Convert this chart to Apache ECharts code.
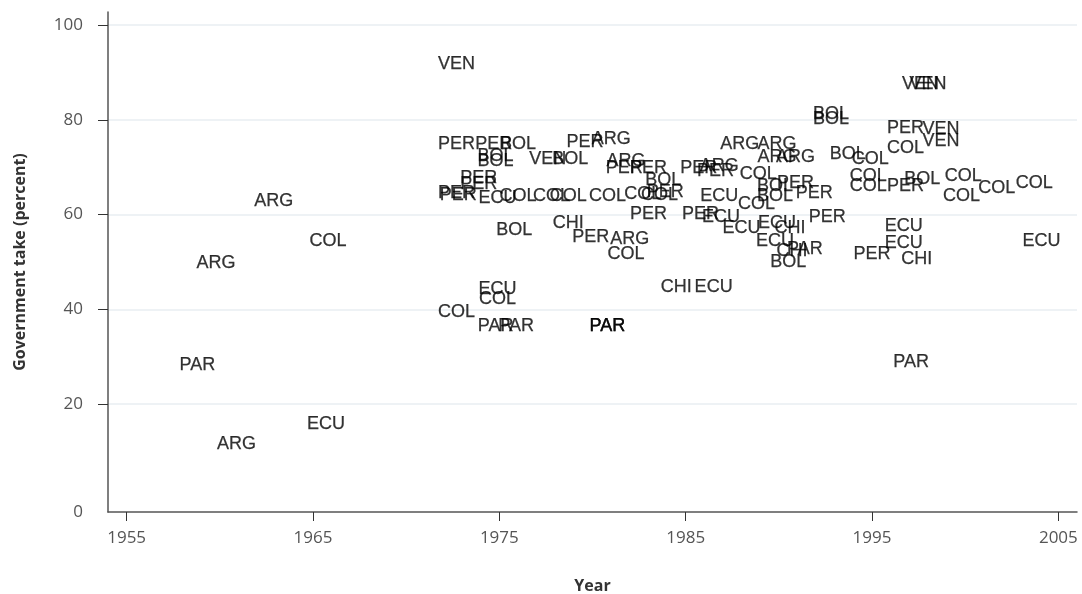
<!DOCTYPE html>
<html><head><meta charset="utf-8">
<script src="https://cdn.jsdelivr.net/npm/echarts@6/dist/echarts.min.js"></script>
<style>html,body{margin:0;padding:0;background:#fff}#c{width:1082px;height:594px}</style>
</head><body><div id="c"></div>
<script>
// Country code for each observation
const codes = [
 'VEN','ARG','COL','ARG','PAR','ECU','ARG',
 'PER','PER','BOL','PER','ARG','BOL','BOL','VEN','BOL','ARG','PER','PER','BOL',
 'PER','PER','PER','PER','ECU','COL','COL','COL','COL','COL','COL','PER',
 'PER','PER','ECU','BOL','CHI','PER','ARG','COL','CHI','ECU','ECU','COL','COL',
 'PAR','PAR','PAR','PAR',
 'BOL','BOL','ARG','ARG','ARG','ARG','BOL','COL','PER','ARG','PER','COL',
 'BOL','PER','BOL','PER','ECU','COL','ECU','ECU','CHI','PER','ECU','CHI','PAR','BOL','PER',
 'VEN','VEN','PER','VEN','VEN','COL','COL','BOL','COL','COL','PER','COL','COL','COL',
 'ECU','ECU','ECU','CHI','PAR'
];
// Year of each observation
const years = [
 1972.7,1962.9,1965.8,1959.8,1958.8,1965.7,1960.9,
 1972.7,1974.7,1976.0,1979.6,1981.0,1974.8,1974.8,1977.6,1978.8,1981.8,1981.7,1983.0,1983.8,
 1973.9,1973.9,1972.7,1972.8,1974.9,1976.0,1977.8,1978.7,1980.8,1982.7,1983.6,1983.9,
 1983.0,1985.8,1986.9,1975.8,1978.7,1979.9,1982.0,1981.8,1984.5,1986.5,1974.9,1974.9,1972.7,
 1974.8,1975.9,1980.8,1980.8,
 1992.8,1992.8,1987.9,1989.9,1989.9,1990.9,1993.7,1994.9,1985.7,1986.8,1986.6,1988.9,
 1989.8,1990.9,1989.8,1991.9,1986.8,1988.8,1988.0,1989.9,1990.6,1992.6,1989.8,1990.7,1991.4,1990.5,1995.0,
 1997.6,1998.0,1996.8,1998.7,1998.7,1996.8,1994.8,1997.7,1999.9,1994.8,1996.8,1999.8,2001.7,2003.7,
 1996.7,1996.7,2004.1,1997.4,1997.1
];
// Government take (percent)
const takes = [
 91.8,62.9,54.5,49.7,28.2,15.8,11.6,
 74.9,74.9,74.9,75.4,76.0,72.4,71.4,71.8,71.8,71.4,69.9,69.9,67.2,
 67.8,66.5,64.6,64.2,63.6,64.0,64.0,64.0,64.0,64.4,64.2,64.8,
 60.2,60.2,59.4,56.8,58.3,55.2,54.9,51.6,44.8,44.8,44.4,42.1,39.4,
 36.4,36.4,36.4,36.4,
 81.3,80.2,74.9,74.9,72.2,72.2,72.8,71.8,69.9,70.3,69.1,68.6,
 66.1,66.7,64.0,64.6,64.0,62.3,57.1,58.3,57.1,59.4,54.5,52.4,52.8,49.9,51.6,
 87.6,87.6,78.3,78.1,75.6,74.1,68.2,67.6,68.2,66.1,66.1,64.0,65.5,66.7,
 57.5,53.9,54.5,50.7,28.8
];
const xTicks = [1955,1965,1975,1985,1995,2005];
const yTicks = [20,40,60,80,100];
const yTickLabels = ['0','20','40','60','80','100'];

const X_MIN = 1954, X_MAX = 2006, Y_MIN = -2.74, Y_MAX = 102.74;

const points = codes.map((c,i)=>({name:c, value:[years[i], takes[i]]}));
const axisFont = {fontFamily:'Open Sans', fontSize:17, color:'#555'};
const nameFont = {fontFamily:'Open Sans', fontWeight:'bold', fontSize:16, color:'#333'};

const chart = echarts.init(document.getElementById('c'), null, {renderer:'canvas'});
chart.setOption({
  animation:false,
  grid:{left:108, right:5, top:12, bottom:82, containLabel:false, outerBoundsMode:'none'},
  xAxis:{
    type:'value', min:X_MIN, max:X_MAX,
    name:'Year', nameLocation:'middle', nameGap:66, nameTextStyle:nameFont,
    axisLine:{show:true, onZero:false, lineStyle:{color:'#555', width:1.5}},
    axisTick:{show:true, length:9, customValues:xTicks, lineStyle:{color:'#333', width:1}},
    axisLabel:Object.assign({margin:18, customValues:xTicks, formatter:v=>String(v)}, axisFont),
    splitLine:{show:false}
  },
  yAxis:{
    type:'value', min:Y_MIN, max:Y_MAX,
    name:'Government take (percent)', nameLocation:'middle', nameGap:80, nameRotate:90,
    nameTextStyle:nameFont,
    axisLine:{show:true, onZero:false, lineStyle:{color:'#555', width:1.5}},
    axisTick:{show:true, length:10, customValues:yTicks, lineStyle:{color:'#333', width:1}},
    axisLabel:Object.assign({margin:25, customValues:[Y_MIN].concat(yTicks),
      formatter:v=> v < 0 ? yTickLabels[0] : yTickLabels[yTicks.indexOf(v)+1]}, axisFont),
    splitLine:{show:true, lineStyle:{color:'#e8eef2', width:1.5}}
  },
  series:[{
    type:'scatter', data:points, symbolSize:0.1, silent:true,
    itemStyle:{color:'rgba(0,0,0,0)'},
    label:{show:true, position:'inside', formatter:p=>p.name,
      fontFamily:'Liberation Sans', fontSize:18, color:'#000',
      textBorderColor:'#000', textBorderWidth:0.25}
  }]
});
</script></body></html>
